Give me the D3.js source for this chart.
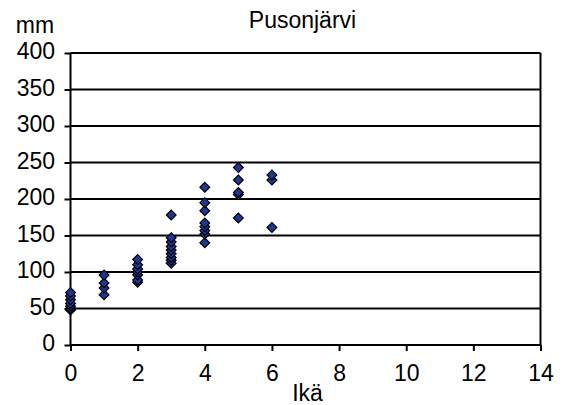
<!DOCTYPE html>
<html><head><meta charset="utf-8">
<script src="https://cdn.jsdelivr.net/npm/d3@7"></script>
<style>html,body{margin:0;padding:0;background:#fff;}svg{display:block;font-family:"Liberation Sans",Arial,sans-serif;}</style>
</head><body>
<svg id="c" width="571" height="405"></svg>
<script>
const title = "Pusonjärvi";
const xLabel = "Ikä";
const yLabel = "mm";
const xTicks = [0, 2, 4, 6, 8, 10, 12, 14];
const yTicks = [0, 50, 100, 150, 200, 250, 300, 350, 400];
const ages = [0,0,0,0,0,0,0, 1,1,1,1, 2,2,2,2,2,2,2, 3,3,3,3,3,3,3,3,3, 4,4,4,4,4,4,4,4, 5,5,5,5,5, 6,6,6];
const lengths = [48,50,53,57,62,67,72, 69,78,85,96, 86,89,96,100,104,110,117, 112,116,120,125,130,135,141,147,178, 140,152,157,162,167,184,195,216, 174,206,209,226,243, 161,226,233];

const svg = d3.select("#c");
const L = 70.5, R = 540.5, T = 53, B = 345;
const FS = 23;
const x = d3.scaleLinear().domain([0, 14]).range([L, R]);
const y = d3.scaleLinear().domain([0, 400]).range([B, T]);

// gridlines
svg.append("g").selectAll("line").data(yTicks.filter(d => d > 0)).join("line")
  .attr("x1", L).attr("x2", R).attr("y1", d => y(d)).attr("y2", d => y(d))
  .attr("stroke", "#000").attr("stroke-width", 2);
// right border
svg.append("line").attr("x1", R).attr("x2", R).attr("y1", T).attr("y2", B)
  .attr("stroke", "#000").attr("stroke-width", 2);

const yAxis = d3.axisLeft(y).tickValues(yTicks).tickSize(6).tickPadding(9.5);
const gy = svg.append("g").attr("transform", `translate(${L},0)`).call(yAxis);
const xAxis = d3.axisBottom(x).tickValues(xTicks).tickSize(6).tickPadding(13.5);
const gx = svg.append("g").attr("transform", `translate(0,${B})`).call(xAxis);
[gx, gy].forEach(g => {
  g.select(".domain").attr("stroke", "#000").attr("stroke-width", 2);
  g.selectAll(".tick line").attr("stroke", "#000").attr("stroke-width", 2);
  g.selectAll("text").attr("font-size", FS).attr("fill", "#000").attr("font-family", "Liberation Sans, Arial, sans-serif");
});
gy.select(".domain").attr("d", `M0,${B}V${T}`);
gx.select(".domain").attr("d", `M${L},0H${R}`);
gy.selectAll("text").attr("dy", "0.25em");

// points
svg.append("g").selectAll("path").data(ages.map((a, i) => [a, lengths[i]])).join("path")
  .attr("d", d3.symbol().type(d3.symbolSquare).size(48))
  .attr("transform", d => `translate(${x(d[0])},${y(d[1])}) rotate(45)`)
  .attr("fill", "#1f3694").attr("stroke", "#000").attr("stroke-width", 1.2);

svg.append("text").attr("x", 302.5).attr("y", 28).attr("text-anchor", "middle")
  .attr("font-size", FS).text(title);
svg.append("text").attr("x", 35).attr("y", 33).attr("text-anchor", "middle")
  .attr("font-size", FS).text(yLabel);
svg.append("text").attr("x", 307.5).attr("y", 401).attr("text-anchor", "middle")
  .attr("font-size", FS).text(xLabel);
</script>
</body></html>
